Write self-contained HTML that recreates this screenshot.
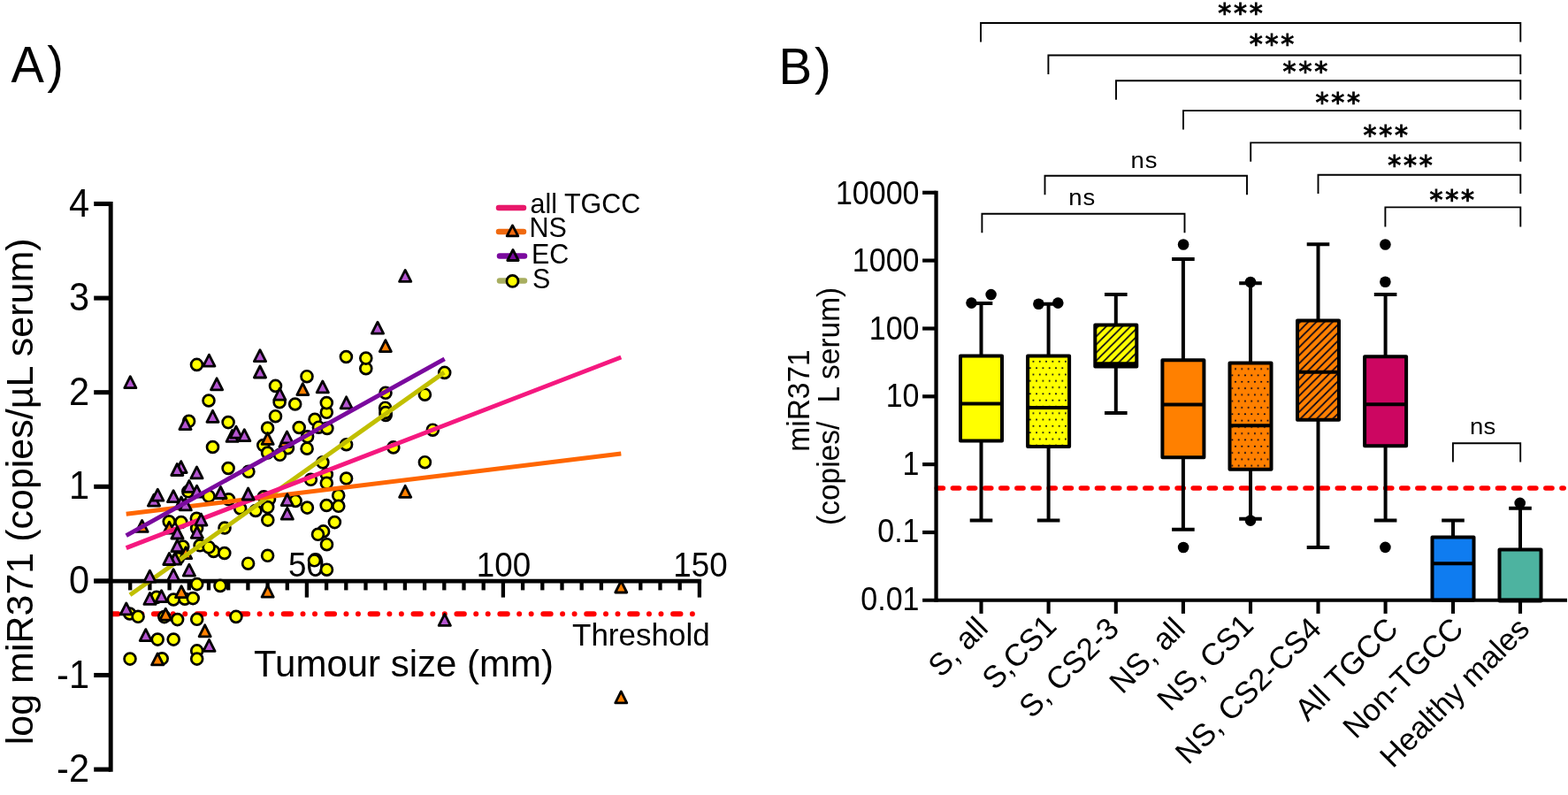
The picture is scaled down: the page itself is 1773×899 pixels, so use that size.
<!DOCTYPE html>
<html lang="en"><head><meta charset="utf-8"><title>miR371 figure</title>
<style>
html,body{margin:0;padding:0;background:#fff;}
body{width:1773px;height:899px;overflow:hidden;}
svg{display:block;font-family:"Liberation Sans", Arial, Helvetica, sans-serif;fill:#000;}
</style></head><body>
<svg width="1773" height="899" viewBox="0 0 1773 899">
<defs>
<pattern id="dotsY" width="7.3" height="14.6" patternUnits="userSpaceOnUse" x="1166.65" y="405.2">
<rect width="7.3" height="14.6" fill="#ffff00"/><circle cx="1.8" cy="3.6" r="1" fill="#000018"/><circle cx="5.45" cy="10.9" r="1" fill="#000018"/></pattern>
<pattern id="dotsO" width="7.3" height="14.6" patternUnits="userSpaceOnUse" x="1395.2" y="413.5">
<rect width="7.3" height="14.6" fill="#ff8000"/><circle cx="1.8" cy="3.6" r="1" fill="#000018"/><circle cx="5.45" cy="10.9" r="1" fill="#000018"/></pattern>
<pattern id="hatY" width="9.15" height="9.15" patternUnits="userSpaceOnUse" x="1238" y="372.85">
<rect width="9.15" height="9.15" fill="#ffff00"/><path d="M-2 2L2 -2M-1 10.15L10.15 -1M7.15 11.15L11.15 7.15" stroke="#000018" stroke-width="1.7"/></pattern>
<pattern id="hatO" width="9.15" height="9.15" patternUnits="userSpaceOnUse" x="1467" y="367.25">
<rect width="9.15" height="9.15" fill="#ff8000"/><path d="M-2 2L2 -2M-1 10.15L10.15 -1M7.15 11.15L11.15 7.15" stroke="#000018" stroke-width="1.7"/></pattern>
</defs>
<rect width="1773" height="899" fill="#fff"/>

<g id="panelA">
<text transform="translate(12.4,92.6) scale(1,1.04)" font-size="56" text-anchor="start" letter-spacing="3.5">A)</text>
<text transform="translate(36.6,842.2) rotate(-90) scale(1,0.98)" font-size="43">log miR371 (copies/µL serum)</text>
<path d="M106.2 657.1H793.1" stroke="#000" stroke-width="4.7" fill="none"/>
<path d="M106.2 230.5H125.2" stroke="#000" stroke-width="5.1"/>
<text transform="translate(101,244.5) scale(1,1.06)" font-size="41.5" text-anchor="end">4</text>
<path d="M106.2 337.1H125.2" stroke="#000" stroke-width="5.1"/>
<text transform="translate(101,351.1) scale(1,1.06)" font-size="41.5" text-anchor="end">3</text>
<path d="M106.2 443.7H125.2" stroke="#000" stroke-width="5.1"/>
<text transform="translate(101,457.7) scale(1,1.06)" font-size="41.5" text-anchor="end">2</text>
<path d="M106.2 550.3H125.2" stroke="#000" stroke-width="5.1"/>
<text transform="translate(101,564.3) scale(1,1.06)" font-size="41.5" text-anchor="end">1</text>
<path d="M106.2 656.9H125.2" stroke="#000" stroke-width="5.1"/>
<text transform="translate(101,670.9) scale(1,1.06)" font-size="41.5" text-anchor="end">0</text>
<path d="M106.2 763.5H125.2" stroke="#000" stroke-width="5.1"/>
<text transform="translate(101,777.5) scale(1,1.06)" font-size="41.5" text-anchor="end">-1</text>
<path d="M106.2 870.1H125.2" stroke="#000" stroke-width="5.1"/>
<text transform="translate(101,884.1) scale(1,1.06)" font-size="41.5" text-anchor="end">-2</text>
<path d="M147.2 657.1V667.4" stroke="#000" stroke-width="4.3"/>
<path d="M169.4 657.1V667.4" stroke="#000" stroke-width="4.3"/>
<path d="M191.6 657.1V667.4" stroke="#000" stroke-width="4.3"/>
<path d="M213.8 657.1V667.4" stroke="#000" stroke-width="4.3"/>
<path d="M236.0 657.1V667.4" stroke="#000" stroke-width="4.3"/>
<path d="M258.2 657.1V667.4" stroke="#000" stroke-width="4.3"/>
<path d="M280.4 657.1V667.4" stroke="#000" stroke-width="4.3"/>
<path d="M302.6 657.1V667.4" stroke="#000" stroke-width="4.3"/>
<path d="M324.8 657.1V667.4" stroke="#000" stroke-width="4.3"/>
<path d="M346.9 657.1V675.6" stroke="#000" stroke-width="4.3"/>
<path d="M369.1 657.1V667.4" stroke="#000" stroke-width="4.3"/>
<path d="M391.3 657.1V667.4" stroke="#000" stroke-width="4.3"/>
<path d="M413.5 657.1V667.4" stroke="#000" stroke-width="4.3"/>
<path d="M435.7 657.1V667.4" stroke="#000" stroke-width="4.3"/>
<path d="M457.9 657.1V667.4" stroke="#000" stroke-width="4.3"/>
<path d="M480.1 657.1V667.4" stroke="#000" stroke-width="4.3"/>
<path d="M502.3 657.1V667.4" stroke="#000" stroke-width="4.3"/>
<path d="M524.5 657.1V667.4" stroke="#000" stroke-width="4.3"/>
<path d="M546.7 657.1V667.4" stroke="#000" stroke-width="4.3"/>
<path d="M568.9 657.1V675.6" stroke="#000" stroke-width="4.3"/>
<path d="M591.1 657.1V667.4" stroke="#000" stroke-width="4.3"/>
<path d="M613.3 657.1V667.4" stroke="#000" stroke-width="4.3"/>
<path d="M635.5 657.1V667.4" stroke="#000" stroke-width="4.3"/>
<path d="M657.7 657.1V667.4" stroke="#000" stroke-width="4.3"/>
<path d="M679.9 657.1V667.4" stroke="#000" stroke-width="4.3"/>
<path d="M702.1 657.1V667.4" stroke="#000" stroke-width="4.3"/>
<path d="M724.3 657.1V667.4" stroke="#000" stroke-width="4.3"/>
<path d="M746.5 657.1V667.4" stroke="#000" stroke-width="4.3"/>
<path d="M768.7 657.1V667.4" stroke="#000" stroke-width="4.3"/>
<path d="M790.9 657.1V675.6" stroke="#000" stroke-width="4.3"/>
<text transform="translate(346.4,652.2) scale(1,1.075)" font-size="36.8" text-anchor="middle">50</text>
<text transform="translate(569.4,652.2) scale(1,1.075)" font-size="36.8" text-anchor="middle">100</text>
<text transform="translate(792.0,652.2) scale(1,1.075)" font-size="36.8" text-anchor="middle">150</text>
<path d="M127 694.2H784" stroke="#ff0000" stroke-width="6" stroke-linecap="round" stroke-dasharray="8.4 13.4 0 13.5 0 13.63" stroke-dashoffset="2" fill="none"/>
<path d="M125.2 228.0V872.7" stroke="#000" stroke-width="4.9" fill="none"/>
<text x="647" y="729.5" font-size="35" text-anchor="start" >Threshold</text>
<text transform="translate(287,764.9) scale(1,1.02)" font-size="42" text-anchor="start">Tumour size (mm)</text>
<circle cx="222.5" cy="412.4" r="6.45" fill="#ffff00" stroke="#000" stroke-width="2.7"/>
<circle cx="236.0" cy="453.0" r="6.45" fill="#ffff00" stroke="#000" stroke-width="2.7"/>
<circle cx="213.6" cy="476.3" r="6.45" fill="#ffff00" stroke="#000" stroke-width="2.7"/>
<circle cx="258.1" cy="477.6" r="6.45" fill="#ffff00" stroke="#000" stroke-width="2.7"/>
<circle cx="240.5" cy="505.5" r="6.45" fill="#ffff00" stroke="#000" stroke-width="2.7"/>
<circle cx="258.1" cy="529.5" r="6.45" fill="#ffff00" stroke="#000" stroke-width="2.7"/>
<circle cx="280.9" cy="533.3" r="6.45" fill="#ffff00" stroke="#000" stroke-width="2.7"/>
<circle cx="311.5" cy="436.4" r="6.45" fill="#ffff00" stroke="#000" stroke-width="2.7"/>
<circle cx="316.1" cy="454.7" r="6.45" fill="#ffff00" stroke="#000" stroke-width="2.7"/>
<circle cx="347.0" cy="425.7" r="6.45" fill="#ffff00" stroke="#000" stroke-width="2.7"/>
<circle cx="391.4" cy="403.5" r="6.45" fill="#ffff00" stroke="#000" stroke-width="2.7"/>
<circle cx="413.8" cy="416.7" r="6.45" fill="#ffff00" stroke="#000" stroke-width="2.7"/>
<circle cx="413.8" cy="405.1" r="6.45" fill="#ffff00" stroke="#000" stroke-width="2.7"/>
<circle cx="502.7" cy="421.4" r="6.45" fill="#ffff00" stroke="#000" stroke-width="2.7"/>
<circle cx="436.0" cy="444.3" r="6.45" fill="#ffff00" stroke="#000" stroke-width="2.7"/>
<circle cx="480.4" cy="446.2" r="6.45" fill="#ffff00" stroke="#000" stroke-width="2.7"/>
<circle cx="212.8" cy="555.8" r="6.45" fill="#ffff00" stroke="#000" stroke-width="2.7"/>
<circle cx="236.1" cy="561.2" r="6.45" fill="#ffff00" stroke="#000" stroke-width="2.7"/>
<circle cx="258.6" cy="564.8" r="6.45" fill="#ffff00" stroke="#000" stroke-width="2.7"/>
<circle cx="271.7" cy="575.0" r="6.45" fill="#ffff00" stroke="#000" stroke-width="2.7"/>
<circle cx="289.0" cy="577.5" r="6.45" fill="#ffff00" stroke="#000" stroke-width="2.7"/>
<circle cx="191.2" cy="589.8" r="6.45" fill="#ffff00" stroke="#000" stroke-width="2.7"/>
<circle cx="204.8" cy="590.5" r="6.45" fill="#ffff00" stroke="#000" stroke-width="2.7"/>
<circle cx="222.3" cy="586.3" r="6.45" fill="#ffff00" stroke="#000" stroke-width="2.7"/>
<circle cx="254.0" cy="597.0" r="6.45" fill="#ffff00" stroke="#000" stroke-width="2.7"/>
<circle cx="222.6" cy="597.4" r="6.45" fill="#ffff00" stroke="#000" stroke-width="2.7"/>
<circle cx="206.8" cy="618.1" r="6.45" fill="#ffff00" stroke="#000" stroke-width="2.7"/>
<circle cx="226.1" cy="616.8" r="6.45" fill="#ffff00" stroke="#000" stroke-width="2.7"/>
<circle cx="241.5" cy="623.5" r="6.45" fill="#ffff00" stroke="#000" stroke-width="2.7"/>
<circle cx="236.1" cy="618.8" r="6.45" fill="#ffff00" stroke="#000" stroke-width="2.7"/>
<circle cx="201.4" cy="631.5" r="6.45" fill="#ffff00" stroke="#000" stroke-width="2.7"/>
<circle cx="298.3" cy="561.8" r="6.45" fill="#ffff00" stroke="#000" stroke-width="2.7"/>
<circle cx="304.5" cy="564.5" r="6.45" fill="#ffff00" stroke="#000" stroke-width="2.7"/>
<circle cx="302.7" cy="573.6" r="6.45" fill="#ffff00" stroke="#000" stroke-width="2.7"/>
<circle cx="302.8" cy="588.1" r="6.45" fill="#ffff00" stroke="#000" stroke-width="2.7"/>
<circle cx="334.1" cy="566.4" r="6.45" fill="#ffff00" stroke="#000" stroke-width="2.7"/>
<circle cx="347.4" cy="574.1" r="6.45" fill="#ffff00" stroke="#000" stroke-width="2.7"/>
<circle cx="351.4" cy="542.3" r="6.45" fill="#ffff00" stroke="#000" stroke-width="2.7"/>
<circle cx="365.6" cy="600.9" r="6.45" fill="#ffff00" stroke="#000" stroke-width="2.7"/>
<circle cx="359.5" cy="604.3" r="6.45" fill="#ffff00" stroke="#000" stroke-width="2.7"/>
<circle cx="253.8" cy="625.5" r="6.45" fill="#ffff00" stroke="#000" stroke-width="2.7"/>
<circle cx="280.6" cy="637.2" r="6.45" fill="#ffff00" stroke="#000" stroke-width="2.7"/>
<circle cx="302.6" cy="628.3" r="6.45" fill="#ffff00" stroke="#000" stroke-width="2.7"/>
<circle cx="355.5" cy="633.8" r="6.45" fill="#ffff00" stroke="#000" stroke-width="2.7"/>
<circle cx="333.7" cy="457.0" r="6.45" fill="#ffff00" stroke="#000" stroke-width="2.7"/>
<circle cx="311.5" cy="470.7" r="6.45" fill="#ffff00" stroke="#000" stroke-width="2.7"/>
<circle cx="369.3" cy="466.3" r="6.45" fill="#ffff00" stroke="#000" stroke-width="2.7"/>
<circle cx="369.3" cy="455.6" r="6.45" fill="#ffff00" stroke="#000" stroke-width="2.7"/>
<circle cx="356.0" cy="474.3" r="6.45" fill="#ffff00" stroke="#000" stroke-width="2.7"/>
<circle cx="338.2" cy="483.5" r="6.45" fill="#ffff00" stroke="#000" stroke-width="2.7"/>
<circle cx="360.4" cy="483.2" r="6.45" fill="#ffff00" stroke="#000" stroke-width="2.7"/>
<circle cx="369.9" cy="484.4" r="6.45" fill="#ffff00" stroke="#000" stroke-width="2.7"/>
<circle cx="302.6" cy="484.1" r="6.45" fill="#ffff00" stroke="#000" stroke-width="2.7"/>
<circle cx="297.8" cy="503.6" r="6.45" fill="#ffff00" stroke="#000" stroke-width="2.7"/>
<circle cx="325.4" cy="506.7" r="6.45" fill="#ffff00" stroke="#000" stroke-width="2.7"/>
<circle cx="347.6" cy="493.8" r="6.45" fill="#ffff00" stroke="#000" stroke-width="2.7"/>
<circle cx="302.6" cy="512.0" r="6.45" fill="#ffff00" stroke="#000" stroke-width="2.7"/>
<circle cx="316.5" cy="514.3" r="6.45" fill="#ffff00" stroke="#000" stroke-width="2.7"/>
<circle cx="347.1" cy="507.2" r="6.45" fill="#ffff00" stroke="#000" stroke-width="2.7"/>
<circle cx="391.6" cy="502.7" r="6.45" fill="#ffff00" stroke="#000" stroke-width="2.7"/>
<circle cx="364.9" cy="522.8" r="6.45" fill="#ffff00" stroke="#000" stroke-width="2.7"/>
<circle cx="435.6" cy="461.2" r="6.45" fill="#ffff00" stroke="#000" stroke-width="2.7"/>
<circle cx="436.2" cy="469.5" r="6.45" fill="#ffff00" stroke="#000" stroke-width="2.7"/>
<circle cx="436.0" cy="466.5" r="6.45" fill="#ffff00" stroke="#000" stroke-width="2.7"/>
<circle cx="369.3" cy="536.5" r="6.45" fill="#ffff00" stroke="#000" stroke-width="2.7"/>
<circle cx="369.3" cy="546.3" r="6.45" fill="#ffff00" stroke="#000" stroke-width="2.7"/>
<circle cx="391.6" cy="541.0" r="6.45" fill="#ffff00" stroke="#000" stroke-width="2.7"/>
<circle cx="382.7" cy="560.3" r="6.45" fill="#ffff00" stroke="#000" stroke-width="2.7"/>
<circle cx="369.2" cy="571.5" r="6.45" fill="#ffff00" stroke="#000" stroke-width="2.7"/>
<circle cx="382.8" cy="572.3" r="6.45" fill="#ffff00" stroke="#000" stroke-width="2.7"/>
<circle cx="489.3" cy="486.2" r="6.45" fill="#ffff00" stroke="#000" stroke-width="2.7"/>
<circle cx="444.8" cy="505.9" r="6.45" fill="#ffff00" stroke="#000" stroke-width="2.7"/>
<circle cx="480.4" cy="522.7" r="6.45" fill="#ffff00" stroke="#000" stroke-width="2.7"/>
<circle cx="378.4" cy="590.6" r="6.45" fill="#ffff00" stroke="#000" stroke-width="2.7"/>
<circle cx="369.5" cy="615.7" r="6.45" fill="#ffff00" stroke="#000" stroke-width="2.7"/>
<circle cx="369.5" cy="644.2" r="6.45" fill="#ffff00" stroke="#000" stroke-width="2.7"/>
<circle cx="222.7" cy="660.6" r="6.45" fill="#ffff00" stroke="#000" stroke-width="2.7"/>
<circle cx="249.0" cy="662.4" r="6.45" fill="#ffff00" stroke="#000" stroke-width="2.7"/>
<circle cx="209.0" cy="677.2" r="6.45" fill="#ffff00" stroke="#000" stroke-width="2.7"/>
<circle cx="218.2" cy="676.6" r="6.45" fill="#ffff00" stroke="#000" stroke-width="2.7"/>
<circle cx="196.2" cy="678.0" r="6.45" fill="#ffff00" stroke="#000" stroke-width="2.7"/>
<circle cx="177.0" cy="675.4" r="6.45" fill="#ffff00" stroke="#000" stroke-width="2.7"/>
<circle cx="146.7" cy="694.0" r="6.45" fill="#ffff00" stroke="#000" stroke-width="2.7"/>
<circle cx="156.1" cy="697.3" r="6.45" fill="#ffff00" stroke="#000" stroke-width="2.7"/>
<circle cx="185.8" cy="697.6" r="6.45" fill="#ffff00" stroke="#000" stroke-width="2.7"/>
<circle cx="200.6" cy="700.6" r="6.45" fill="#ffff00" stroke="#000" stroke-width="2.7"/>
<circle cx="222.7" cy="700.3" r="6.45" fill="#ffff00" stroke="#000" stroke-width="2.7"/>
<circle cx="266.9" cy="697.4" r="6.45" fill="#ffff00" stroke="#000" stroke-width="2.7"/>
<circle cx="178.2" cy="723.1" r="6.45" fill="#ffff00" stroke="#000" stroke-width="2.7"/>
<circle cx="196.2" cy="723.1" r="6.45" fill="#ffff00" stroke="#000" stroke-width="2.7"/>
<circle cx="222.7" cy="735.9" r="6.45" fill="#ffff00" stroke="#000" stroke-width="2.7"/>
<circle cx="222.7" cy="745.1" r="6.45" fill="#ffff00" stroke="#000" stroke-width="2.7"/>
<circle cx="147.0" cy="745.1" r="6.45" fill="#ffff00" stroke="#000" stroke-width="2.7"/>
<circle cx="183.2" cy="744.8" r="6.45" fill="#ffff00" stroke="#000" stroke-width="2.7"/>
<path d="M342.3 433.6L348.9 446.6L335.8 446.6Z" fill="#ff8000" stroke="#000" stroke-width="2.8" stroke-linejoin="round"/>
<path d="M435.9 384.6L442.4 397.6L429.3 397.6Z" fill="#ff8000" stroke="#000" stroke-width="2.8" stroke-linejoin="round"/>
<path d="M160.6 588.4L167.2 601.4L154.0 601.4Z" fill="#ff8000" stroke="#000" stroke-width="2.8" stroke-linejoin="round"/>
<path d="M191.4 590.2L198.0 603.2L184.8 603.2Z" fill="#ff8000" stroke="#000" stroke-width="2.8" stroke-linejoin="round"/>
<path d="M210.1 618.7L216.7 631.7L203.5 631.7Z" fill="#ff8000" stroke="#000" stroke-width="2.8" stroke-linejoin="round"/>
<path d="M302.6 489.4L309.2 502.4L296.1 502.4Z" fill="#ff8000" stroke="#000" stroke-width="2.8" stroke-linejoin="round"/>
<path d="M322.5 492.5L329.1 505.5L315.9 505.5Z" fill="#ff8000" stroke="#000" stroke-width="2.8" stroke-linejoin="round"/>
<path d="M458.2 549.3L464.8 562.3L451.6 562.3Z" fill="#ff8000" stroke="#000" stroke-width="2.8" stroke-linejoin="round"/>
<path d="M205.1 662.7L211.7 675.7L198.5 675.7Z" fill="#ff8000" stroke="#000" stroke-width="2.8" stroke-linejoin="round"/>
<path d="M187.3 688.2L193.9 701.2L180.8 701.2Z" fill="#ff8000" stroke="#000" stroke-width="2.8" stroke-linejoin="round"/>
<path d="M231.7 706.8L238.2 719.8L225.1 719.8Z" fill="#ff8000" stroke="#000" stroke-width="2.8" stroke-linejoin="round"/>
<path d="M178.2 738.9L184.8 751.9L171.6 751.9Z" fill="#ff8000" stroke="#000" stroke-width="2.8" stroke-linejoin="round"/>
<path d="M302.7 662.2L309.2 675.2L296.1 675.2Z" fill="#ff8000" stroke="#000" stroke-width="2.8" stroke-linejoin="round"/>
<path d="M702.3 657.0L708.8 670.0L695.8 670.0Z" fill="#ff8000" stroke="#000" stroke-width="2.8" stroke-linejoin="round"/>
<path d="M702.3 781.9L708.8 794.9L695.8 794.9Z" fill="#ff8000" stroke="#000" stroke-width="2.8" stroke-linejoin="round"/>
<line x1="147.0" y1="672.8" x2="502.3" y2="421.1" stroke="#c1bf00" stroke-width="5.0"/>
<line x1="142.7" y1="581.3" x2="702.3" y2="512.9" stroke="#ff6600" stroke-width="5.0"/>
<line x1="142.7" y1="619.7" x2="702.3" y2="404.0" stroke="#f5187f" stroke-width="5.0"/>
<path d="M147.3 425.7L153.9 438.7L140.8 438.7Z" fill="#b455d0" stroke="#000" stroke-width="2.8" stroke-linejoin="round"/>
<path d="M236.4 401.1L243.0 414.1L229.8 414.1Z" fill="#b455d0" stroke="#000" stroke-width="2.8" stroke-linejoin="round"/>
<path d="M245.1 427.8L251.7 440.8L238.5 440.8Z" fill="#b455d0" stroke="#000" stroke-width="2.8" stroke-linejoin="round"/>
<path d="M209.5 472.6L216.1 485.6L202.9 485.6Z" fill="#b455d0" stroke="#000" stroke-width="2.8" stroke-linejoin="round"/>
<path d="M240.5 464.3L247.1 477.3L233.9 477.3Z" fill="#b455d0" stroke="#000" stroke-width="2.8" stroke-linejoin="round"/>
<path d="M262.6 486.4L269.2 499.4L256.1 499.4Z" fill="#b455d0" stroke="#000" stroke-width="2.8" stroke-linejoin="round"/>
<path d="M267.0 482.1L273.6 495.1L260.4 495.1Z" fill="#b455d0" stroke="#000" stroke-width="2.8" stroke-linejoin="round"/>
<path d="M276.3 485.7L282.9 498.7L269.8 498.7Z" fill="#b455d0" stroke="#000" stroke-width="2.8" stroke-linejoin="round"/>
<path d="M204.7 521.6L211.2 534.6L198.1 534.6Z" fill="#b455d0" stroke="#000" stroke-width="2.8" stroke-linejoin="round"/>
<path d="M200.3 524.5L206.9 537.5L193.8 537.5Z" fill="#b455d0" stroke="#000" stroke-width="2.8" stroke-linejoin="round"/>
<path d="M222.5 527.9L229.1 540.9L215.9 540.9Z" fill="#b455d0" stroke="#000" stroke-width="2.8" stroke-linejoin="round"/>
<path d="M294.0 395.7L300.6 408.7L287.4 408.7Z" fill="#b455d0" stroke="#000" stroke-width="2.8" stroke-linejoin="round"/>
<path d="M294.0 414.0L300.6 427.0L287.4 427.0Z" fill="#b455d0" stroke="#000" stroke-width="2.8" stroke-linejoin="round"/>
<path d="M316.3 439.2L322.9 452.2L309.8 452.2Z" fill="#b455d0" stroke="#000" stroke-width="2.8" stroke-linejoin="round"/>
<path d="M364.8 430.9L371.4 443.9L358.2 443.9Z" fill="#b455d0" stroke="#000" stroke-width="2.8" stroke-linejoin="round"/>
<path d="M427.0 364.2L433.6 377.2L420.4 377.2Z" fill="#b455d0" stroke="#000" stroke-width="2.8" stroke-linejoin="round"/>
<path d="M458.2 305.4L464.8 318.4L451.6 318.4Z" fill="#b455d0" stroke="#000" stroke-width="2.8" stroke-linejoin="round"/>
<path d="M213.9 543.4L220.5 556.4L207.3 556.4Z" fill="#b455d0" stroke="#000" stroke-width="2.8" stroke-linejoin="round"/>
<path d="M222.6 549.2L229.2 562.2L216.0 562.2Z" fill="#b455d0" stroke="#000" stroke-width="2.8" stroke-linejoin="round"/>
<path d="M249.5 550.5L256.1 563.5L242.9 563.5Z" fill="#b455d0" stroke="#000" stroke-width="2.8" stroke-linejoin="round"/>
<path d="M280.6 552.0L287.2 565.0L274.1 565.0Z" fill="#b455d0" stroke="#000" stroke-width="2.8" stroke-linejoin="round"/>
<path d="M174.0 559.1L180.6 572.1L167.4 572.1Z" fill="#b455d0" stroke="#000" stroke-width="2.8" stroke-linejoin="round"/>
<path d="M178.3 553.2L184.9 566.2L171.8 566.2Z" fill="#b455d0" stroke="#000" stroke-width="2.8" stroke-linejoin="round"/>
<path d="M196.1 554.7L202.7 567.7L189.5 567.7Z" fill="#b455d0" stroke="#000" stroke-width="2.8" stroke-linejoin="round"/>
<path d="M205.0 562.0L211.6 575.0L198.4 575.0Z" fill="#b455d0" stroke="#000" stroke-width="2.8" stroke-linejoin="round"/>
<path d="M209.8 563.9L216.4 576.9L203.2 576.9Z" fill="#b455d0" stroke="#000" stroke-width="2.8" stroke-linejoin="round"/>
<path d="M227.4 581.1L234.0 594.1L220.8 594.1Z" fill="#b455d0" stroke="#000" stroke-width="2.8" stroke-linejoin="round"/>
<path d="M200.5 596.0L207.1 609.0L193.9 609.0Z" fill="#b455d0" stroke="#000" stroke-width="2.8" stroke-linejoin="round"/>
<path d="M222.8 595.3L229.4 608.3L216.2 608.3Z" fill="#b455d0" stroke="#000" stroke-width="2.8" stroke-linejoin="round"/>
<path d="M200.5 610.7L207.1 623.7L193.9 623.7Z" fill="#b455d0" stroke="#000" stroke-width="2.8" stroke-linejoin="round"/>
<path d="M198.0 625.2L204.6 638.2L191.4 638.2Z" fill="#b455d0" stroke="#000" stroke-width="2.8" stroke-linejoin="round"/>
<path d="M191.4 625.5L198.0 638.5L184.8 638.5Z" fill="#b455d0" stroke="#000" stroke-width="2.8" stroke-linejoin="round"/>
<path d="M213.9 638.2L220.5 651.2L207.3 651.2Z" fill="#b455d0" stroke="#000" stroke-width="2.8" stroke-linejoin="round"/>
<path d="M169.4 645.2L176.0 658.2L162.8 658.2Z" fill="#b455d0" stroke="#000" stroke-width="2.8" stroke-linejoin="round"/>
<path d="M196.1 643.7L202.7 656.7L189.5 656.7Z" fill="#b455d0" stroke="#000" stroke-width="2.8" stroke-linejoin="round"/>
<path d="M324.8 558.6L331.4 571.6L318.2 571.6Z" fill="#b455d0" stroke="#000" stroke-width="2.8" stroke-linejoin="round"/>
<path d="M324.8 574.2L331.4 587.2L318.2 587.2Z" fill="#b455d0" stroke="#000" stroke-width="2.8" stroke-linejoin="round"/>
<path d="M391.6 448.8L398.2 461.8L385.1 461.8Z" fill="#b455d0" stroke="#000" stroke-width="2.8" stroke-linejoin="round"/>
<path d="M324.5 487.9L331.1 500.9L317.9 500.9Z" fill="#b455d0" stroke="#000" stroke-width="2.8" stroke-linejoin="round"/>
<path d="M182.6 667.7L189.2 680.7L176.0 680.7Z" fill="#b455d0" stroke="#000" stroke-width="2.8" stroke-linejoin="round"/>
<path d="M169.5 670.4L176.1 683.4L162.9 683.4Z" fill="#b455d0" stroke="#000" stroke-width="2.8" stroke-linejoin="round"/>
<path d="M142.8 681.9L149.4 694.9L136.2 694.9Z" fill="#b455d0" stroke="#000" stroke-width="2.8" stroke-linejoin="round"/>
<path d="M164.8 711.6L171.4 724.6L158.2 724.6Z" fill="#b455d0" stroke="#000" stroke-width="2.8" stroke-linejoin="round"/>
<path d="M236.5 723.4L243.1 736.4L229.9 736.4Z" fill="#b455d0" stroke="#000" stroke-width="2.8" stroke-linejoin="round"/>
<path d="M502.8 694.4L509.4 707.4L496.2 707.4Z" fill="#b455d0" stroke="#000" stroke-width="2.8" stroke-linejoin="round"/>
<line x1="142.7" y1="605.6" x2="502.7" y2="405.9" stroke="#7a0a9e" stroke-width="5.0"/>
<path d="M564 235H592" stroke="#e8186a" stroke-width="6.5" stroke-linecap="round"/>
<text x="599.5" y="240.5" font-size="30.5" text-anchor="start" >all TGCC</text>
<path d="M564 262H592" stroke="#f06a10" stroke-width="6.5" stroke-linecap="round"/>
<path d="M579.5 254.9L585.8 266.9L573.2 266.9Z" fill="#f06a10" stroke="#000" stroke-width="2.8" stroke-linejoin="round"/>
<text x="598.5" y="267.9" font-size="30.5" text-anchor="start" >NS</text>
<path d="M565 289.6H593" stroke="#7a0a9e" stroke-width="6.5" stroke-linecap="round"/>
<path d="M580.0 282.5L586.2 294.5L573.8 294.5Z" fill="#7a0a9e" stroke="#000" stroke-width="2.8" stroke-linejoin="round"/>
<text x="601" y="298.4" font-size="30.5" text-anchor="start" >EC</text>
<path d="M565 317.6H593" stroke="#a8ae60" stroke-width="6.5" stroke-linecap="round"/>
<circle cx="579.5" cy="317.9" r="6.5" fill="#ffff00" stroke="#000" stroke-width="2.7"/>
<text x="602" y="325.9" font-size="30.5" text-anchor="start" >S</text>
</g>
<g id="panelB">
<text transform="translate(880.6,94.8) scale(1,1.03)" font-size="56.5" text-anchor="start" letter-spacing="2.8">B)</text>
<text transform="translate(915.2,453) rotate(-90) scale(1,1.04)" font-size="33.5" text-anchor="middle">miR371</text>
<text transform="translate(948.6,594.0) rotate(-90) scale(1,1.04)" font-size="33.5">(copies/</text>
<text transform="translate(948.6,455.6) rotate(-90) scale(1,1.04)" font-size="33.5">L serum)</text>
<path d="M1059.25 552H1768.2" stroke="#ff0000" stroke-width="5.5" stroke-linecap="round" stroke-dasharray="7.2 10.92" fill="none"/>
<path d="M1109.5 402.5V343.1M1096.7 343.1H1122.3" stroke="#000" stroke-width="4" fill="none"/>
<path d="M1109.5 498.5V588.4M1096.7 588.4H1122.3" stroke="#000" stroke-width="4" fill="none"/>
<rect x="1086.0" y="402.5" width="47" height="96.0" fill="#ffff00" stroke="#000" stroke-width="4" stroke-linejoin="round"/>
<path d="M1086.0 456.5H1133.0" stroke="#000" stroke-width="4"/>
<circle cx="1098.5" cy="342.6" r="6.3" fill="#000"/>
<circle cx="1120.6" cy="333.1" r="6.3" fill="#000"/>
<path d="M1185.6 402.5V343.7M1172.8 343.7H1198.3999999999999" stroke="#000" stroke-width="4" fill="none"/>
<path d="M1185.6 505V588.4M1172.8 588.4H1198.3999999999999" stroke="#000" stroke-width="4" fill="none"/>
<rect x="1162.1" y="402.5" width="47" height="102.5" fill="url(#dotsY)" stroke="#000" stroke-width="4" stroke-linejoin="round"/>
<path d="M1162.1 461.0H1209.1" stroke="#000" stroke-width="4"/>
<circle cx="1174.4" cy="343.7" r="6.3" fill="#000"/>
<circle cx="1196.3" cy="342.6" r="6.3" fill="#000"/>
<path d="M1261.8 367.4V333.1M1249.0 333.1H1274.6" stroke="#000" stroke-width="4" fill="none"/>
<path d="M1261.8 414.5V467.1M1249.0 467.1H1274.6" stroke="#000" stroke-width="4" fill="none"/>
<rect x="1238.3" y="367.4" width="47" height="47.1" fill="url(#hatY)" stroke="#000" stroke-width="4" stroke-linejoin="round"/>
<path d="M1238.3 411.8H1285.3" stroke="#000" stroke-width="5"/>
<path d="M1337.9 407.2V292.9M1325.1000000000001 292.9H1350.7" stroke="#000" stroke-width="4" fill="none"/>
<path d="M1337.9 517.3V598.7M1325.1000000000001 598.7H1350.7" stroke="#000" stroke-width="4" fill="none"/>
<rect x="1314.4" y="407.2" width="47" height="110.1" fill="#ff8000" stroke="#000" stroke-width="4" stroke-linejoin="round"/>
<path d="M1314.4 457.6H1361.4" stroke="#000" stroke-width="4"/>
<circle cx="1338.1" cy="276.5" r="6.3" fill="#000"/>
<circle cx="1338.1" cy="619" r="6.3" fill="#000"/>
<path d="M1414.0 410.6V320.3M1401.2 320.3H1426.8" stroke="#000" stroke-width="4" fill="none"/>
<path d="M1414.0 530.8V586.8M1401.2 586.8H1426.8" stroke="#000" stroke-width="4" fill="none"/>
<rect x="1390.5" y="410.6" width="47" height="120.2" fill="url(#dotsO)" stroke="#000" stroke-width="4" stroke-linejoin="round"/>
<path d="M1390.5 481.2H1437.5" stroke="#000" stroke-width="4"/>
<circle cx="1414" cy="319" r="6.3" fill="#000"/>
<circle cx="1414" cy="588.6" r="6.3" fill="#000"/>
<path d="M1490.5 362.6V276.3M1477.7 276.3H1503.3" stroke="#000" stroke-width="4" fill="none"/>
<path d="M1490.5 474.7V618.9M1477.7 618.9H1503.3" stroke="#000" stroke-width="4" fill="none"/>
<rect x="1467.0" y="362.6" width="47" height="112.1" fill="url(#hatO)" stroke="#000" stroke-width="4" stroke-linejoin="round"/>
<path d="M1467.0 420.7H1514.0" stroke="#000" stroke-width="4"/>
<path d="M1566.6 403.3V333M1553.8 333H1579.3999999999999" stroke="#000" stroke-width="4" fill="none"/>
<path d="M1566.6 504.3V588.5M1553.8 588.5H1579.3999999999999" stroke="#000" stroke-width="4" fill="none"/>
<rect x="1543.1" y="403.3" width="47" height="101.0" fill="#cc0661" stroke="#000" stroke-width="4" stroke-linejoin="round"/>
<path d="M1543.1 457.2H1590.1" stroke="#000" stroke-width="4"/>
<circle cx="1566.4" cy="276.5" r="6.3" fill="#000"/>
<circle cx="1566.4" cy="318.7" r="6.3" fill="#000"/>
<circle cx="1566.4" cy="618.9" r="6.3" fill="#000"/>
<path d="M1643.0 607.6V588.5M1630.2 588.5H1655.8" stroke="#000" stroke-width="4" fill="none"/>
<rect x="1619.5" y="607.6" width="47" height="71.0" fill="#0f7cf0" stroke="#000" stroke-width="4" stroke-linejoin="round"/>
<path d="M1619.5 637.2H1666.5" stroke="#000" stroke-width="4"/>
<path d="M1719.0 621.6V574.7M1706.2 574.7H1731.8" stroke="#000" stroke-width="4" fill="none"/>
<rect x="1695.5" y="621.6" width="47" height="57.8" fill="#4db3a0" stroke="#000" stroke-width="4" stroke-linejoin="round"/>
<path d="M1695.5 678.6H1742.5" stroke="#000" stroke-width="4"/>
<circle cx="1718.7" cy="568.9" r="6.3" fill="#000"/>
<path d="M1058.55 215.7V680.8" stroke="#000" stroke-width="4.3" fill="none"/>
<path d="M1043.1 678.8H1772" stroke="#000" stroke-width="4.1" fill="none"/>
<path d="M1043.1 217.8H1058.55" stroke="#000" stroke-width="4.2"/>
<text transform="translate(1039.5,230.5) scale(1,1.1)" font-size="34" text-anchor="end">10000</text>
<path d="M1043.1 294.6H1058.55" stroke="#000" stroke-width="4.2"/>
<text transform="translate(1039.5,307.1) scale(1,1.1)" font-size="34" text-anchor="end">1000</text>
<path d="M1043.1 371.5H1058.55" stroke="#000" stroke-width="4.2"/>
<text transform="translate(1039.5,383.6) scale(1,1.1)" font-size="34" text-anchor="end">100</text>
<path d="M1043.1 448.3H1058.55" stroke="#000" stroke-width="4.2"/>
<text transform="translate(1039.5,460.1) scale(1,1.1)" font-size="34" text-anchor="end">10</text>
<path d="M1043.1 525.1H1058.55" stroke="#000" stroke-width="4.2"/>
<text transform="translate(1039.5,536.7) scale(1,1.1)" font-size="34" text-anchor="end">1</text>
<path d="M1043.1 602.0H1058.55" stroke="#000" stroke-width="4.2"/>
<text transform="translate(1039.5,613.2) scale(1,1.1)" font-size="34" text-anchor="end">0.1</text>
<text transform="translate(1039.5,689.8) scale(1,1.1)" font-size="34" text-anchor="end">0.01</text>
<path d="M1109.5 678.8V693.9" stroke="#000" stroke-width="4.1"/>
<text transform="translate(1118.9,712.2) rotate(-45)" font-size="35" text-anchor="end">S, all</text>
<path d="M1185.6 678.8V693.9" stroke="#000" stroke-width="4.1"/>
<text transform="translate(1196.6,710.0) rotate(-45)" font-size="35" text-anchor="end">S,CS1</text>
<path d="M1261.8 678.8V693.9" stroke="#000" stroke-width="4.1"/>
<text transform="translate(1267.2,713.0) rotate(-45)" font-size="35" text-anchor="end">S, CS2-3</text>
<path d="M1337.9 678.8V693.9" stroke="#000" stroke-width="4.1"/>
<text transform="translate(1341.9,713.0) rotate(-45)" font-size="35" text-anchor="end">NS, all</text>
<path d="M1414.0 678.8V693.9" stroke="#000" stroke-width="4.1"/>
<text transform="translate(1419.2,709.3) rotate(-45)" font-size="35" text-anchor="end">NS, CS1</text>
<path d="M1490.5 678.8V693.9" stroke="#000" stroke-width="4.1"/>
<text transform="translate(1496.1,713.0) rotate(-45)" font-size="35" text-anchor="end">NS, CS2-CS4</text>
<path d="M1566.6 678.8V693.9" stroke="#000" stroke-width="4.1"/>
<text transform="translate(1582.8,713.0) rotate(-45)" font-size="35" text-anchor="end">All TGCC</text>
<path d="M1643.0 678.8V693.9" stroke="#000" stroke-width="4.1"/>
<text transform="translate(1656.7,713.0) rotate(-45)" font-size="35" text-anchor="end">Non-TGCC</text>
<path d="M1719.0 678.8V693.9" stroke="#000" stroke-width="4.1"/>
<text transform="translate(1731.5,713.0) rotate(-45)" font-size="35" text-anchor="end">Healthy males</text>
<path d="M1109 47.4V26H1719.3V47.4" stroke="#000" stroke-width="1.9" fill="none"/>
<path d="M1185.4 83.9V62.5H1719.3V83.9" stroke="#000" stroke-width="1.9" fill="none"/>
<path d="M1262 112.69999999999999V91.3H1719.3V112.69999999999999" stroke="#000" stroke-width="1.9" fill="none"/>
<path d="M1338 146.5V125.1H1719.3V146.5" stroke="#000" stroke-width="1.9" fill="none"/>
<path d="M1414.2 182.8V161.4H1719.3V182.8" stroke="#000" stroke-width="1.9" fill="none"/>
<path d="M1490.5 219.1V197.7H1719.3V219.1" stroke="#000" stroke-width="1.9" fill="none"/>
<path d="M1566.4 256.4V234.4H1719.3V256.4" stroke="#000" stroke-width="1.9" fill="none"/>
<path d="M1110.4 263.2V241.8H1339.5V263.2" stroke="#000" stroke-width="1.9" fill="none"/>
<path d="M1181.5 220.20000000000002V198.8H1410V220.20000000000002" stroke="#000" stroke-width="1.9" fill="none"/>
<path d="M1642.9 522.6V501.2H1719.2V522.6" stroke="#000" stroke-width="1.9" fill="none"/>
<text x="1377.2" y="24.7" font-size="30" letter-spacing="2.8" stroke="#000" stroke-width="1" font-family="&quot;DejaVu Sans&quot;, &quot;Liberation Sans&quot;, sans-serif">***</text>
<text x="1412.7" y="60.2" font-size="30" letter-spacing="2.8" stroke="#000" stroke-width="1" font-family="&quot;DejaVu Sans&quot;, &quot;Liberation Sans&quot;, sans-serif">***</text>
<text x="1450.6" y="91.4" font-size="30" letter-spacing="2.8" stroke="#000" stroke-width="1" font-family="&quot;DejaVu Sans&quot;, &quot;Liberation Sans&quot;, sans-serif">***</text>
<text x="1487.4" y="125.8" font-size="30" letter-spacing="2.8" stroke="#000" stroke-width="1" font-family="&quot;DejaVu Sans&quot;, &quot;Liberation Sans&quot;, sans-serif">***</text>
<text x="1541.4" y="162.7" font-size="30" letter-spacing="2.8" stroke="#000" stroke-width="1" font-family="&quot;DejaVu Sans&quot;, &quot;Liberation Sans&quot;, sans-serif">***</text>
<text x="1569.2" y="197.2" font-size="30" letter-spacing="2.8" stroke="#000" stroke-width="1" font-family="&quot;DejaVu Sans&quot;, &quot;Liberation Sans&quot;, sans-serif">***</text>
<text x="1616.4" y="235.6" font-size="30" letter-spacing="2.8" stroke="#000" stroke-width="1" font-family="&quot;DejaVu Sans&quot;, &quot;Liberation Sans&quot;, sans-serif">***</text>
<text transform="translate(1208.2,231.8) scale(1,0.925)" font-size="27.5" letter-spacing="0.9">ns</text>
<text transform="translate(1278.5,189.7) scale(1,0.925)" font-size="27.5" letter-spacing="0.9">ns</text>
<text transform="translate(1662.1,491.1) scale(1,0.925)" font-size="27.5" letter-spacing="0">ns</text>
</g>
</svg></body></html>
